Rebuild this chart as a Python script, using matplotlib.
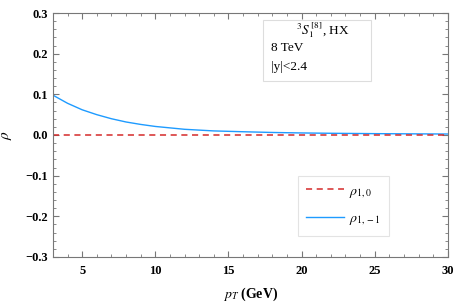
import matplotlib
matplotlib.use("Agg")
import matplotlib.pyplot as plt
from matplotlib.patches import Rectangle
from matplotlib.ticker import MultipleLocator

plt.rcParams['font.family'] = ['Liberation Serif', 'DejaVu Serif']
plt.rcParams['mathtext.fontset'] = 'stix'

# data
pt = [3, 4, 5, 6, 7, 8, 9, 10, 12, 14, 16, 18, 20, 22, 25, 28, 30]
rho_10 = [0.0] * len(pt)
rho_1m1 = [0.098, 0.078, 0.062, 0.050, 0.040, 0.032, 0.026, 0.021,
           0.014, 0.010, 0.008, 0.0062, 0.005, 0.0042, 0.0033, 0.0027, 0.0024]

fig = plt.figure(figsize=(4.64, 3.03), dpi=100)
ax = fig.add_axes([0.114, 0.152, 0.851, 0.805])

ax.plot(pt, rho_1m1, color='#1e9bff', lw=1.0, label=r'$\rho_{1,-1}$')
ax.plot(pt, rho_10, color='#d42a2a', lw=1.1, ls=(0, (4, 3)), label=r'$\rho_{1,0}$')

ax.set_xlim(3, 30)
ax.set_ylim(-0.3, 0.3)
ax.xaxis.set_major_locator(MultipleLocator(5))
ax.xaxis.set_minor_locator(MultipleLocator(1))
ax.yaxis.set_major_locator(MultipleLocator(0.1))
ax.yaxis.set_minor_locator(MultipleLocator(0.02))
ax.tick_params(which='both', direction='in', top=True, right=True, color='#777777')
ax.tick_params(which='major', length=4, labelsize=9)
ax.tick_params(axis='x', which='major', pad=6)
ax.tick_params(which='minor', length=2)
for lab in ax.get_xticklabels() + ax.get_yticklabels():
    lab.set_fontweight('bold')
ax.set_yticks([-0.3, -0.2, -0.1, 0.0, 0.1, 0.2, 0.3])
ax.set_yticklabels(['\u22120.3', '\u22120.2', '\u22120.1', '0.0', '0.1', '0.2', '0.3'],
                   fontweight='bold')
for s in ax.spines.values():
    s.set_color('#777777')
    s.set_linewidth(0.8)

ax.set_xlabel(r'$p_T$ (GeV)', fontsize=10, fontweight='bold', labelpad=6)
ax.set_ylabel(r'$\rho$', fontsize=11, labelpad=8)

# text box
fig.patches.append(Rectangle((263 / 464, 1 - 81 / 303), 108 / 464, 61 / 303,
                             transform=fig.transFigure, fill=False,
                             ec='#dddddd', lw=0.8))
fig.text(296 / 464, 1 - 30 / 303, r'$^{3}S_1^{\,[8]}$, HX', fontsize=9.5, va='center')
fig.text(271 / 464, 1 - 48 / 303, '8 TeV', fontsize=9.5, va='center')
fig.text(271 / 464, 1 - 67 / 303, '|y|<2.4', fontsize=9.5, va='center')

handles, labels = ax.get_legend_handles_labels()
leg = ax.legend(handles[::-1], labels[::-1], loc='upper left',
                bbox_to_anchor=((298 - 53) / 395, (257 - 176) / 244),
                fontsize=10, frameon=True, fancybox=False, handlelength=2.7,
                labelspacing=0.9, borderpad=0.6, handletextpad=0.4,
                borderaxespad=0)
leg.get_frame().set_edgecolor('#dddddd')
leg.get_frame().set_linewidth(0.8)

fig.savefig('out.png', dpi=100)
